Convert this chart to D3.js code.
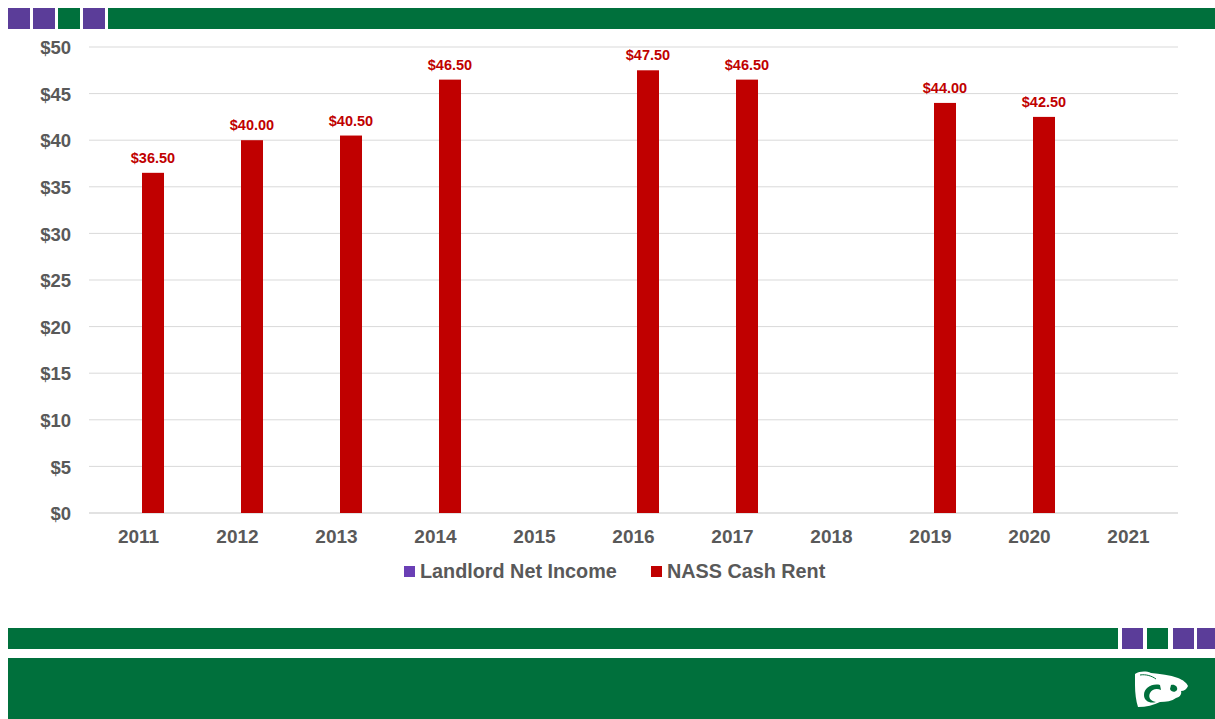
<!DOCTYPE html>
<html>
<head>
<meta charset="utf-8">
<script src="https://cdn.jsdelivr.net/npm/d3@7"></script>
<style>
  html, body { margin: 0; padding: 0; background: #ffffff; }
  svg { display: block; font-family: Arial, "Liberation Sans", sans-serif; }
</style>
</head>
<body>
<svg id="chart" width="1215" height="719"></svg>
<script>
// Chart data
const years = ["2011","2012","2013","2014","2015","2016","2017","2018","2019","2020","2021"];
const seriesNames = ["Landlord Net Income", "NASS Cash Rent"];
const landlordNetIncome = [null, null, null, null, null, null, null, null, null, null, null];
const nassCashRent = [36.5, 40.0, 40.5, 46.5, null, 47.5, 46.5, null, 44.0, 42.5, null];
const yTicks = [0, 5, 10, 15, 20, 25, 30, 35, 40, 45, 50];

const colors = { "Landlord Net Income": "#6a3fb5", "NASS Cash Rent": "#c00000" };
const green = "#00703c";
const purple = "#5b3d99";
const textGray = "#595959";

const svg = d3.select("#chart");

// Decorative banners
const headerBand = svg.append("g");
[[8, purple], [33, purple], [58, green], [83, purple]].forEach(([bx, c]) => {
  headerBand.append("rect").attr("x", bx).attr("y", 8).attr("width", 22).attr("height", 21).attr("fill", c);
});
headerBand.append("rect").attr("x", 108).attr("y", 8).attr("width", 1107).attr("height", 21).attr("fill", green);

const footerBand = svg.append("g");
footerBand.append("rect").attr("x", 8).attr("y", 628).attr("width", 1110).attr("height", 21).attr("fill", green);
[[1122, purple, 21], [1147, green, 21], [1173, purple, 21], [1197, purple, 18]].forEach(([bx, c, w]) => {
  footerBand.append("rect").attr("x", bx).attr("y", 628).attr("width", w).attr("height", 21).attr("fill", c);
});
footerBand.append("rect").attr("x", 8).attr("y", 658).attr("width", 1207).attr("height", 61).attr("fill", green);

// Powercat mark
const cat = footerBand.append("g").attr("transform", "translate(1134,671)");
cat.append("path")
  .attr("fill", "#ffffff")
  .attr("d", "M1,3 C6,0 12,0 17,2 C26,3 36,4 44,7 C49,9 53,12 54,15 C53,18 50,20 47,20 C48,23 46,26 42,27 C38,30 32,31 26,31 C20,34 12,36 4,36 C2,30 1,22 1,14 Z");
cat.append("path")
  .attr("fill", green)
  .attr("d", "M26,14 C18,12 10,17 10,24 C10,30 16,33 22,31 C16,30 14,26 16,22 C18,18 23,17 27,19 Z");
cat.append("path")
  .attr("fill", green)
  .attr("d", "M37,14 C41,13 44,16 43,19 C41,22 37,21 36,18 Z");
cat.append("path")
  .attr("fill", "none").attr("stroke", green).attr("stroke-width", 1)
  .attr("d", "M6,4 C12,3 18,5 22,8");

// Plot area
const plot = { left: 89, right: 1178, top: 47, bottom: 513 };

const x = d3.scaleBand()
  .domain(years)
  .range([plot.left, plot.right])
  .paddingInner(0.4848)
  .paddingOuter(0.2424);

const xSeries = d3.scaleBand()
  .domain(seriesNames)
  .range([0, x.bandwidth()])
  .paddingInner(0.2414)
  .paddingOuter(0);

const y = d3.scaleLinear().domain([0, 50]).range([plot.bottom, plot.top]);

// Gridlines
svg.append("g")
  .selectAll("line")
  .data(yTicks)
  .join("line")
  .attr("x1", plot.left).attr("x2", plot.right)
  .attr("y1", d => y(d)).attr("y2", d => y(d))
  .attr("stroke", "#d9d9d9")
  .attr("stroke-width", d => d === 0 ? 1.5 : 1);

// Y axis
const yAxis = svg.append("g")
  .attr("transform", `translate(${plot.left},0)`)
  .call(d3.axisLeft(y).tickValues(yTicks).tickFormat(d => "$" + d).tickSize(0).tickPadding(18));
yAxis.select(".domain").remove();
yAxis.selectAll("text")
  .attr("fill", textGray).attr("font-size", 18.5).attr("font-weight", "bold")
  .attr("dy", "0.36em");

// X axis
const xAxis = svg.append("g")
  .attr("transform", `translate(0,${plot.bottom})`)
  .call(d3.axisBottom(x).tickSize(0).tickPadding(17));
xAxis.select(".domain").remove();
xAxis.selectAll("text")
  .attr("fill", textGray).attr("font-size", 19).attr("font-weight", "bold")
  .attr("dy", "0.71em");

// Bars
const rows = years.map((yr, i) => ({
  year: yr,
  values: [
    { name: seriesNames[0], value: landlordNetIncome[i] },
    { name: seriesNames[1], value: nassCashRent[i] }
  ]
}));

const groups = svg.append("g")
  .selectAll("g")
  .data(rows)
  .join("g")
  .attr("transform", d => `translate(${x(d.year)},0)`);

groups.selectAll("rect")
  .data(d => d.values.filter(v => v.value != null))
  .join("rect")
  .attr("x", d => xSeries(d.name))
  .attr("width", xSeries.bandwidth())
  .attr("y", d => y(d.value))
  .attr("height", d => y(0) - y(d.value))
  .attr("fill", d => colors[d.name]);

// Value labels
groups.selectAll("text")
  .data(d => d.values.filter(v => v.value != null))
  .join("text")
  .attr("x", d => xSeries(d.name) + xSeries.bandwidth() / 2)
  .attr("y", d => y(d.value) - 10)
  .attr("text-anchor", "middle")
  .attr("fill", "#c00000")
  .attr("font-size", 14.5)
  .attr("font-weight", "bold")
  .text(d => "$" + d.value.toFixed(2));

// Legend
const legendItems = [
  { name: seriesNames[0], x: 404 },
  { name: seriesNames[1], x: 651 }
];
const legend = svg.append("g");
legendItems.forEach(item => {
  legend.append("rect")
    .attr("x", item.x).attr("y", 566).attr("width", 11).attr("height", 11)
    .attr("fill", colors[item.name]);
  legend.append("text")
    .attr("x", item.x + 16).attr("y", 578)
    .attr("fill", textGray).attr("font-size", 19.8).attr("font-weight", "bold")
    .text(item.name);
});
</script>
</body>
</html>
